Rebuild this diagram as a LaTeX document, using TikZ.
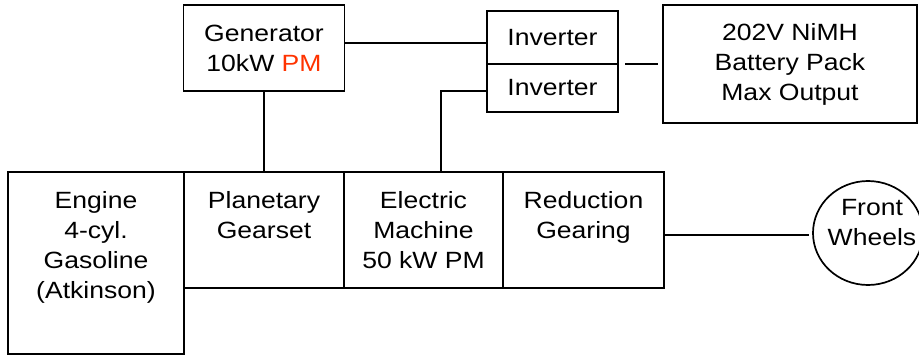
\documentclass[tikz,border=0pt]{standalone}
\usepackage{fontspec}
\setmainfont{Liberation Sans}[FakeStretch=1.13]
\usetikzlibrary{shapes.geometric}
\definecolor{pmred}{RGB}{255,51,0}
\tikzset{
  blk/.style={draw=black, line width=1.7pt, rectangle, inner sep=0pt, outer sep=0pt, align=center,
    font=\fontsize{23.5}{30}\selectfont},
  wire/.style={draw=black, line width=1.7pt},
  wheel/.style={draw=black, line width=1.7pt, ellipse, inner sep=0pt, outer sep=0pt,
    minimum width=110pt, minimum height=104pt},
  lbl/.style={align=center, inner sep=0pt, font=\fontsize{23.5}{30}\selectfont}
}
\newcommand{\topbox}[3]{\parbox[c][#2][t]{#1}{\centering\rule{0pt}{36pt}#3\par}}
\begin{document}
\begin{tikzpicture}[x=1pt, y=-1pt]
\useasboundingbox (0,0) rectangle (919,356);
% top row
\node[blk, minimum width=161pt, minimum height=86pt] (gen) at (264,48) {Generator\\10kW \textcolor{pmred}{PM}};
\node[blk, minimum width=131pt, minimum height=53pt] (inv1) at (552.5,37.5) {Inverter};
\node[blk, minimum width=131pt, minimum height=48pt] (inv2) at (552.5,88) {Inverter};
\node[blk, minimum width=254pt, minimum height=118pt] (bat) at (790,64) {202V NiMH\\Battery Pack\\Max Output};
% bottom row
\node[blk] (eng) at (96,263) {\topbox{176pt}{182pt}{Engine\\4-cyl.\\Gasoline\\(Atkinson)}};
\node[blk] (plan) at (264,230) {\topbox{160pt}{116pt}{Planetary\\Gearset}};
\node[blk] (elec) at (423.5,230) {\topbox{159pt}{116pt}{Electric\\Machine\\50 kW PM}};
\node[blk] (red) at (583.5,230) {\topbox{161pt}{116pt}{Reduction\\Gearing}};
\node[wheel] (wheels) at (868,233) {};
\node[lbl] (wheelstext) at (872,223) {Front\\Wheels};
% connectors
\draw[wire] ([yshift=5pt]gen.east) -- ([yshift=5pt]gen.east -| inv1.west);
\draw[wire, shorten <=7pt, shorten >=5pt] (inv1.south east) -- (bat.west);
\draw[wire] (gen.south) -- (gen.south |- plan.north);
\draw[wire] ([yshift=-3pt]inv2.west) -| ([xshift=17.5pt]elec.north);
\draw[wire, shorten >=4pt] ([yshift=-5pt]red.east) -- ([yshift=-5pt]red.east -| wheels.west);
\end{tikzpicture}
\end{document}
